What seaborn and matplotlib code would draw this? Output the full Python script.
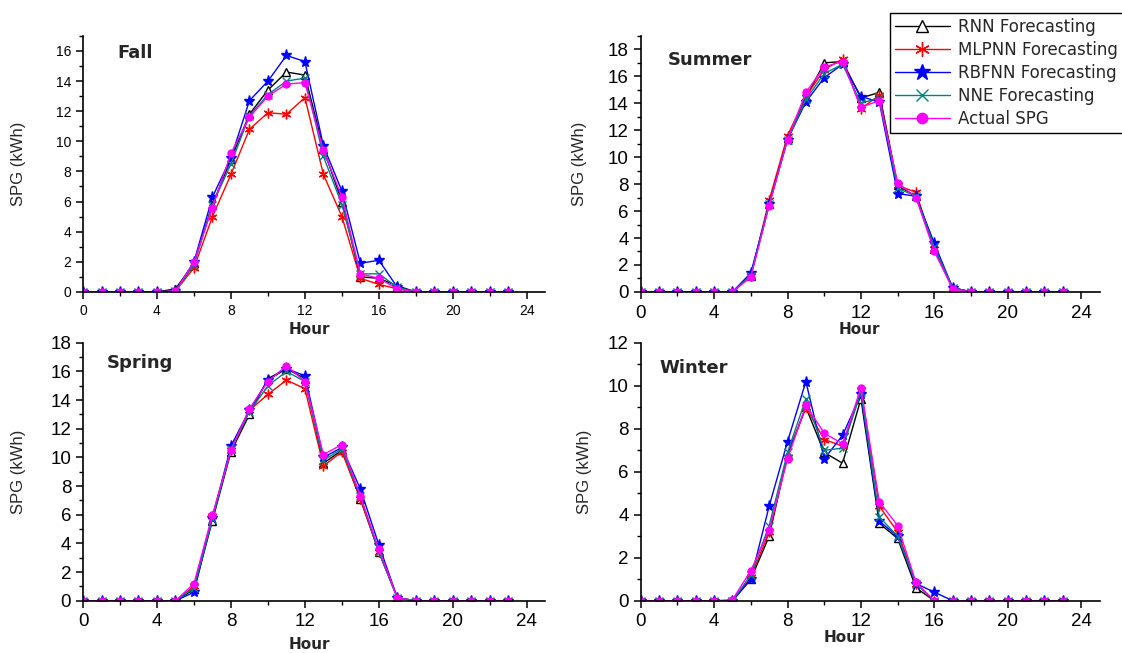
import matplotlib
matplotlib.use("Agg")
import matplotlib.pyplot as plt
from matplotlib.ticker import MultipleLocator
import seaborn as sns

sns.set_style("ticks")
plt.rcParams['font.family'] = ['Liberation Sans', 'DejaVu Sans']

# data
hours = list(range(24))
series_names = ['RNN Forecasting', 'MLPNN Forecasting', 'RBFNN Forecasting',
                'NNE Forecasting', 'Actual SPG']

fall_rnn = [0, 0, 0, 0, 0, 0.2, 1.9, 5.8, 8.8, 11.8, 13.4, 14.6, 14.4, 9.5, 6.0, 1.0, 0.9, 0.4, 0, 0, 0, 0, 0, 0]
fall_mlp = [0, 0, 0, 0, 0, 0.05, 1.6, 5.0, 7.8, 10.8, 11.9, 11.8, 12.9, 7.8, 5.0, 0.9, 0.5, 0.2, 0, 0, 0, 0, 0, 0]
fall_rbf = [0, 0, 0, 0, 0, 0.05, 2.0, 6.3, 8.9, 12.7, 14.0, 15.7, 15.3, 9.7, 6.7, 1.9, 2.1, 0.3, 0, 0, 0, 0, 0, 0]
fall_nne = [0, 0, 0, 0, 0, 0.05, 1.8, 5.8, 8.5, 11.7, 13.1, 14.0, 14.2, 9.0, 5.8, 1.2, 1.2, 0.3, 0, 0, 0, 0, 0, 0]
fall_act = [0, 0, 0, 0, 0, 0.05, 2.0, 5.6, 9.2, 11.6, 13.0, 13.8, 13.9, 9.4, 6.3, 1.2, 0.9, 0.2, 0, 0, 0, 0, 0, 0]

summer_rnn = [0, 0, 0, 0, 0, 0, 1.2, 6.5, 11.4, 14.4, 17.0, 17.1, 14.4, 14.8, 7.9, 7.1, 3.2, 0.3, 0, 0, 0, 0, 0, 0]
summer_mlp = [0, 0, 0, 0, 0, 0, 1.2, 6.8, 11.6, 14.5, 16.5, 17.3, 13.6, 14.6, 7.9, 7.4, 3.2, 0.3, 0, 0, 0, 0, 0, 0]
summer_rbf = [0, 0, 0, 0, 0, 0, 1.4, 6.5, 11.3, 14.1, 15.9, 16.9, 14.5, 14.1, 7.3, 7.1, 3.6, 0.3, 0, 0, 0, 0, 0, 0]
summer_nne = [0, 0, 0, 0, 0, 0, 1.2, 6.5, 11.3, 14.3, 16.2, 16.9, 14.0, 14.4, 7.7, 7.1, 3.3, 0.3, 0, 0, 0, 0, 0, 0]
summer_act = [0, 0, 0, 0, 0, 0, 1.1, 6.4, 11.3, 14.8, 16.7, 17.1, 13.7, 14.2, 8.1, 7.0, 3.0, 0.2, 0, 0, 0, 0, 0, 0]

spring_rnn = [0, 0, 0, 0, 0, 0, 0.8, 5.6, 10.4, 13.0, 15.5, 16.2, 15.5, 9.6, 10.5, 7.1, 3.4, 0.2, 0, 0, 0, 0, 0, 0]
spring_mlp = [0, 0, 0, 0, 0, 0, 1.0, 5.9, 10.5, 13.3, 14.4, 15.4, 14.8, 9.4, 10.4, 7.1, 3.4, 0.2, 0, 0, 0, 0, 0, 0]
spring_rbf = [0, 0, 0, 0, 0, 0, 0.6, 5.8, 10.8, 13.3, 15.4, 16.2, 15.7, 10.0, 10.7, 7.8, 3.9, 0.2, 0, 0, 0, 0, 0, 0]
spring_nne = [0, 0, 0, 0, 0, 0, 0.9, 5.7, 10.6, 13.2, 15.0, 16.0, 15.3, 9.8, 10.6, 7.3, 3.4, 0.2, 0, 0, 0, 0, 0, 0]
spring_act = [0, 0, 0, 0, 0, 0, 1.2, 6.0, 10.5, 13.4, 15.3, 16.4, 15.3, 10.2, 10.9, 7.3, 3.6, 0.2, 0, 0, 0, 0, 0, 0]

winter_rnn = [0, 0, 0, 0, 0, 0, 1.0, 3.0, 6.8, 9.0, 6.9, 6.4, 9.4, 3.6, 2.9, 0.6, 0, 0, 0, 0, 0, 0, 0, 0]
winter_mlp = [0, 0, 0, 0, 0, 0, 1.1, 3.2, 6.7, 9.0, 7.5, 7.2, 9.8, 4.4, 3.2, 0.8, 0, 0, 0, 0, 0, 0, 0, 0]
winter_rbf = [0, 0, 0, 0, 0, 0, 1.0, 4.4, 7.4, 10.2, 6.6, 7.7, 9.6, 3.7, 3.0, 0.8, 0.4, 0, 0, 0, 0, 0, 0, 0]
winter_nne = [0, 0, 0, 0, 0, 0, 1.2, 3.5, 6.9, 9.4, 7.0, 7.1, 9.7, 3.9, 3.0, 0.8, 0, 0, 0, 0, 0, 0, 0, 0]
winter_act = [0, 0, 0, 0, 0, 0.05, 1.4, 3.3, 6.6, 9.1, 7.8, 7.3, 9.9, 4.6, 3.5, 0.85, 0, 0, 0, 0, 0, 0, 0, 0]

# styles per series
styles = [
    dict(color='black', marker='^', mfc='white', mec='black', ms=5.5),
    dict(color='red', marker=(6, 2, 0), mfc='red', mec='red', ms=7),
    dict(color='blue', marker='*', mfc='blue', mec='blue', ms=8),
    dict(color='#008080', marker='x', mfc='#008080', mec='#008080', ms=6),
    dict(color='magenta', marker='o', mfc='magenta', mec='magenta', ms=5),
]

panels = [
    # name, data, axes rect, ylim, title pos, ylabel x, xlabel pos, tick size, x tick pad
    ('Fall', [fall_rnn, fall_mlp, fall_rbf, fall_nne, fall_act],
     [0.074, 0.553, 0.412, 0.392], 17, (0.074, 0.934), -0.123, (0.49, -0.118), 10, 4),
    ('Summer', [summer_rnn, summer_mlp, summer_rbf, summer_nne, summer_act],
     [0.571, 0.553, 0.409, 0.392], 19, (0.059, 0.906), -0.118, (0.477, -0.118), 13.5, 4.5),
    ('Spring', [spring_rnn, spring_mlp, spring_rbf, spring_nne, spring_act],
     [0.074, 0.080, 0.412, 0.395], 18, (0.052, 0.922), -0.123, (0.49, -0.14), 13.5, 3.5),
    ('Winter', [winter_rnn, winter_mlp, winter_rbf, winter_nne, winter_act],
     [0.571, 0.080, 0.409, 0.395], 12, (0.041, 0.903), -0.105, (0.444, -0.112), 13.5, 3.5),
]

fig = plt.figure(figsize=(11.22, 6.53), dpi=100)

handles = None
for name, data, rect, ymax, tpos, ylx, xlpos, tsize, xpad in panels:
    ax = fig.add_axes(rect)
    for label, vals, st in zip(series_names, data, styles):
        sns.lineplot(x=hours, y=vals, ax=ax, color=st['color'], marker=st['marker'],
                     markerfacecolor=st['mfc'], markeredgecolor=st['mec'],
                     markersize=st['ms'], markeredgewidth=1, linewidth=1, label=label)
    if handles is None:
        handles, labels = ax.get_legend_handles_labels()
    if ax.get_legend() is not None:
        ax.get_legend().remove()

    ax.set_xlim(0, 25)
    ax.set_ylim(0, ymax)
    ax.xaxis.set_major_locator(MultipleLocator(4))
    ax.xaxis.set_minor_locator(MultipleLocator(2))
    ax.yaxis.set_major_locator(MultipleLocator(2))
    ax.yaxis.set_minor_locator(MultipleLocator(1))
    sns.despine(ax=ax)
    for sp in ['left', 'bottom']:
        ax.spines[sp].set_linewidth(1.2)
        ax.spines[sp].set_color('black')
    ax.tick_params(which='major', direction='out', length=5, width=1.1, labelsize=tsize, colors='black')
    ax.tick_params(which='minor', direction='out', length=3, width=1.0, colors='black')
    ax.tick_params(axis='x', which='major', pad=xpad)

    ax.set_ylabel('SPG (kWh)', fontsize=12)
    ax.yaxis.set_label_coords(ylx, 0.5)
    ax.set_xlabel('Hour', fontsize=11, fontweight='bold', family=['DejaVu Sans'])
    ax.xaxis.set_label_coords(*xlpos)
    ax.text(tpos[0], tpos[1], name, transform=ax.transAxes, fontsize=13,
            fontweight='bold', family=['DejaVu Sans'], ha='left', va='center')

leg = fig.legend(handles, labels, loc='upper left', bbox_to_anchor=(0.793, 0.98),
                 borderaxespad=0, frameon=True, fancybox=False, framealpha=1,
                 edgecolor='black', handlelength=3.3, markerscale=1.5,
                 labelspacing=0.3, borderpad=0.3, handletextpad=0.5,
                 prop={'family': 'DejaVu Sans', 'size': 12})
leg.get_frame().set_linewidth(1.0)

fig.savefig('out.png', dpi=100)
